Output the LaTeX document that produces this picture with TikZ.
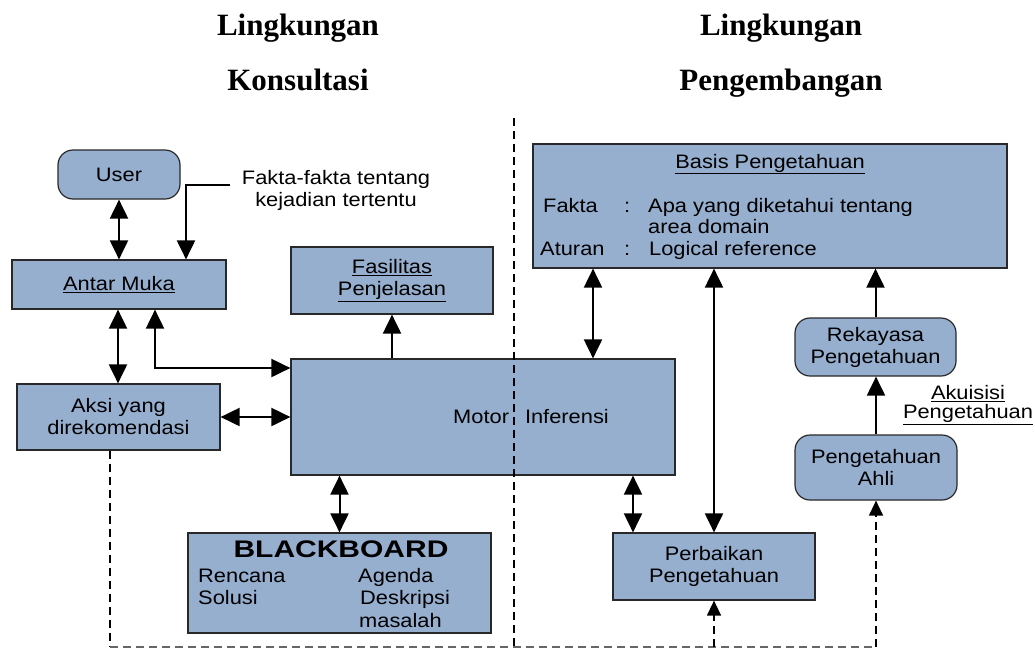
\documentclass[tikz,border=0pt]{standalone}
\usepackage{fontspec}
\setmainfont{Liberation Sans}[FakeStretch=1.12]
\newfontfamily\titlefont{Liberation Serif}
\newfontfamily\bbfont{Liberation Sans}[FakeStretch=1.25]
\usetikzlibrary{arrows.meta}
\definecolor{boxfill}{RGB}{150,175,207}
\definecolor{edge}{RGB}{40,40,40}
\begin{document}
\begin{tikzpicture}[x=1pt,y=-1pt,
  font=\fontsize{19.5}{22}\selectfont,
  box/.style={draw=edge, line width=1.2pt, fill=boxfill, inner sep=0pt, align=center},
  rbox/.style={box, rounded corners=15pt},
  title/.style={anchor=base, font={\titlefont\bfseries\fontsize{31}{31}\selectfont}},
  txt/.style={anchor=base west, inner sep=0pt},
  arr/.style={line width=2pt, -{Triangle[length=19pt,width=18pt]}},
  dbl/.style={line width=2pt, {Triangle[length=19pt,width=18pt]}-{Triangle[length=19pt,width=18pt]}},
  dsh/.style={line width=1.3pt, dash pattern=on 8pt off 5pt},
  darr/.style={dsh, -{Triangle[length=15pt,width=14pt]}}]
\useasboundingbox (0,0) rectangle (1035,649);

% titles
\node[title] (t1) at (298,35) {Lingkungan};
\node[title] (t2) at (298,90) {Konsultasi};
\node[title] (t3) at (781,35) {Lingkungan};
\node[title] (t4) at (781,90) {Pengembangan};

% boxes
\node[rbox, minimum width=122pt, minimum height=49pt] (user) at (119,174.5) {User};
\node[box, minimum width=214pt, minimum height=49pt] (antar) at (119,284.5) {\underline{Antar Muka}};
\node[box, minimum width=202pt, minimum height=67pt] (fas) at (392,280.5) {\underline{Fasilitas}\\\underline{Penjelasan}};
\node[box, minimum width=203pt, minimum height=66pt] (aksi) at (118.5,417) {Aksi yang\\direkomendasi};
\node[box, minimum width=384pt, minimum height=116pt] (motor) at (483,417) {};
\node[box, minimum width=303pt, minimum height=100pt] (bb) at (339.5,583) {};
\node[box, minimum width=474pt, minimum height=124pt] (basis) at (770,206) {};
\node[rbox, minimum width=161pt, minimum height=58pt] (rek) at (875.5,347) {Rekayasa\\Pengetahuan};
\node[rbox, minimum width=162pt, minimum height=65pt] (ahli) at (876,467.5) {Pengetahuan\\Ahli};
\node[box, minimum width=202pt, minimum height=67pt] (perb) at (714,566.5) {Perbaikan\\Pengetahuan};

% divider (drawn over the boxes)
\coordinate (dtop) at (514,118);
\coordinate (dbot) at (514,649);
\draw[dsh] (dtop) -- (dbot);

% texts
\node[anchor=base, inner sep=0pt] (mtxt) at (531,423) {Motor\hspace{16pt}Inferensi};
\node[align=center, inner sep=0pt] (fakta) at (336,190) {Fakta-fakta tentang\\kejadian tertentu};
\node[align=center, inner sep=0pt, font=\fontsize{19.5}{19}\selectfont] (akui) at (968,405) {\underline{Akuisisi}\\\underline{Pengetahuan}};

\node[anchor=base, inner sep=0pt] (btitle) at (770,168) {\underline{Basis Pengetahuan}};
\node[txt] (bf1) at (543,212) {Fakta};
\node[txt] (bf2) at (624,212) {:};
\node[txt] (bf3) at (648,212) {Apa yang diketahui tentang};
\node[txt] (bf4) at (648,233) {area domain};
\node[txt] (ba1) at (540,255) {Aturan};
\node[txt] (ba2) at (624,255) {:};
\node[txt] (ba3) at (649,255) {Logical reference};

\node[anchor=base, inner sep=0pt, font={\bbfont\bfseries\fontsize{24}{24}\selectfont}] (bbt) at (341,557) {BLACKBOARD};
\node[txt] (r1) at (198,582) {Rencana};
\node[txt] (r2) at (198,604) {Solusi};
\node[txt] (r3) at (358,582) {Agenda};
\node[txt] (r4) at (360,604) {Deskripsi};
\node[txt] (r5) at (359,627) {masalah};

% connectors
\draw[dbl] (user) -- (antar);
\coordinate (fk) at (230,185);
\coordinate (fx) at (186,0);
\draw[arr] (fk) -| (fx |- antar.north);
\coordinate (ax) at (118,0);
\draw[dbl] (ax |- antar.south) -- (ax |- aksi.north);
\coordinate (bx) at (155,0);
\coordinate (by) at (0,368);
\draw[dbl] (bx |- antar.south) |- (motor.west |- by);
\draw[dbl] (aksi.east) -- (motor.west |- aksi.east);
\draw[arr] (fas.south |- motor.north) -- (fas.south);
\draw[dbl] (bb.north |- motor.south) -- (bb.north);
\coordinate (cx) at (593,0);
\draw[dbl] (cx |- basis.south) -- (cx |- motor.north);
\draw[dbl] (perb.north |- basis.south) -- (perb.north);
\coordinate (dx) at (633,0);
\draw[dbl] (dx |- motor.south) -- (dx |- perb.north);
\draw[arr] (rek.north) -- (rek.north |- basis.south);
\draw[arr] (ahli.north) -- (ahli.north |- rek.south);

% dashed feedback
\coordinate (ex) at (110,0);
\coordinate (bot) at (0,647);
\draw[dsh] (ex |- aksi.south) -- (ex |- bot);
\draw[dsh, draw=black!60] (ex |- bot) -- (ahli.south |- bot);
\draw[darr] (perb.south |- bot) -- (perb.south);
\draw[darr] (ahli.south |- bot) -- (ahli.south);
\end{tikzpicture}
\end{document}
